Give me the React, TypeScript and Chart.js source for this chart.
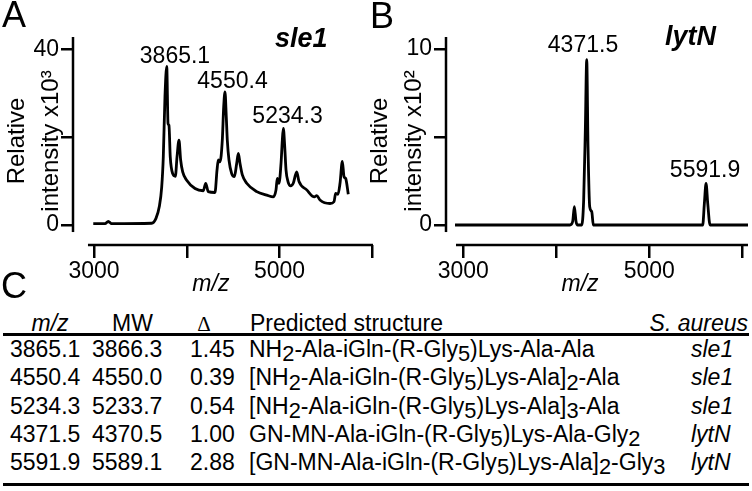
import React, { useEffect, useRef } from 'react';
import { Chart, registerables } from 'chart.js';

Chart.register(...registerables);

const FONT = '"Liberation Sans", Arial, Helvetica, sans-serif';

// ---------- Panel A : sle1 ----------
const mzA = [2992, 3119, 3154, 3190, 3622, 3668, 3704, 3730, 3747, 3765, 3784, 3798, 3808, 3822, 3848, 3877, 3895, 3916, 3934, 3956, 3999, 4089, 4178, 4204, 4232, 4304, 4326, 4340, 4358, 4383, 4398, 4412, 4426, 4437, 4455, 4484, 4513, 4538, 4556, 4574, 4599, 4646, 4754, 4862, 4933, 4962, 4976, 4994, 5016, 5030, 5041, 5056, 5070, 5091, 5120, 5148, 5185, 5210, 5293, 5375, 5401, 5436, 5544, 5587, 5605, 5630, 5652, 5677, 5695, 5713, 5741];
const intensityA = [0.3, 0.3, 0.8, 0.3, 0.4, 1.5, 4.2, 8.7, 15.5, 29.2, 36.1, 23.1, 22.7, 15.5, 11.7, 11.1, 15.5, 19.3, 14.8, 12.1, 10.2, 8.3, 7.8, 9.5, 7.6, 7.4, 12.5, 14.8, 14.4, 19.3, 26.9, 30.3, 24.6, 19.3, 14.8, 11.7, 11.0, 14.0, 16.3, 14.0, 11.4, 9.5, 7.6, 6.8, 6.4, 8.0, 10.6, 9.5, 14.0, 19.3, 22.0, 17.8, 12.5, 9.9, 8.9, 9.5, 12.1, 9.9, 8.0, 6.4, 6.7, 5.7, 4.9, 5.3, 7.2, 7.0, 9.5, 14.5, 11.0, 10.6, 7.0];
const yTicksA = [0, 20, 40];
const yTickLabelsA = ['0', '', '40'];
const peakLabelsA = ['3865.1', '4550.4', '5234.3'];
const peakLabelMzA = [3873, 4493, 5086];
const peakLabelIntA = [36.8, 31.1, 23.2];

// ---------- Panel B : lytN ----------
const mzB = [2911, 4147, 4176, 4194, 4212, 4230, 4273, 4294, 4312, 4327, 4341, 4359, 4381, 4398, 5574, 5592, 5610, 5628, 5653, 6064];
const intensityB = [0, 0, 0.2, 1.04, 0.2, 0, 0, 1.4, 5.4, 9.4, 4.45, 1.04, 0.76, 0, 0, 1.23, 2.37, 1.23, 0, 0];
const yTicksB = [0, 5, 10];
const yTickLabelsB = ['0', '', '10'];
const peakLabelsB = ['4371.5', '5591.9'];
const peakLabelMzB = [4287, 5599];
const peakLabelIntB = [9.8, 2.75];

// ---------- shared x axis ----------
const xTicks = [3000, 4000, 5000, 6000];
const xTickLabels = ['3000', '', '5000', ''];

// ---------- Table C ----------
const tableMz = ['3865.1', '4550.4', '5234.3', '4371.5', '5591.9'];
const tableMW = ['3866.3', '4550.0', '5233.7', '4370.5', '5589.1'];
const tableDelta = ['1.45', '0.39', '0.54', '1.00', '2.88'];
const tableStructure = [
  'NH_2-Ala-iGln-(R-Gly_5)Lys-Ala-Ala',
  '[NH_2-Ala-iGln-(R-Gly_5)Lys-Ala]_2-Ala',
  '[NH_2-Ala-iGln-(R-Gly_5)Lys-Ala]_3-Ala',
  'GN-MN-Ala-iGln-(R-Gly_5)Lys-Ala-Gly_2',
  '[GN-MN-Ala-iGln-(R-Gly_5)Lys-Ala]_2-Gly_3',
];
const tableStrain = ['sle1', 'sle1', 'sle1', 'lytN', 'lytN'];

type Panel = {
  left: number; width: number; height: number;
  yAxisWidth: number; padTop: number; padRight: number; xAxisHeight: number;
  xMin: number; xMax: number; yMin: number; yMax: number;
  xLineStart: number; yLineStart: number;
  mz: number[]; intensity: number[];
  yTicks: number[]; yTickLabels: string[];
  peakLabels: string[]; peakMz: number[]; peakInt: number[];
  gene: string; geneX: number; geneY: number;
  yUnit: string; xTitleAt: number;
};

const panelA: Panel = {
  left: 0, width: 376, height: 300,
  yAxisWidth: 73, padTop: 37, padRight: 3, xAxisHeight: 55,
  xMin: 2773.6, xMax: 6007.5, yMin: -4.55, yMax: 42.8,
  xLineStart: 2935, yLineStart: -1.6,
  mz: mzA, intensity: intensityA,
  yTicks: yTicksA, yTickLabels: yTickLabelsA,
  peakLabels: peakLabelsA, peakMz: peakLabelMzA, peakInt: peakLabelIntA,
  gene: 'sle1', geneX: 275, geneY: 46.5,
  yUnit: 'intensity x10\u00B3', xTitleAt: 4260,
};

const panelB: Panel = {
  left: 363, width: 389, height: 300,
  yAxisWidth: 83, padTop: 37, padRight: 4, xAxisHeight: 55,
  xMin: 2814, xMax: 6061, yMin: -1.136, yMax: 10.68,
  xLineStart: 2921.5, yLineStart: -0.4,
  mz: mzB, intensity: intensityB,
  yTicks: yTicksB, yTickLabels: yTickLabelsB,
  peakLabels: peakLabelsB, peakMz: peakLabelMzB, peakInt: peakLabelIntB,
  gene: 'lytN', geneX: 302, geneY: 45,
  yUnit: 'intensity x10\u00B2', xTitleAt: 4255,
};

const overlayPlugin = {
  id: 'overlay',
  afterDraw(chart: any, _args: any, opts: any) {
    const { ctx, chartArea } = chart;
    const x = chart.scales.x;
    const y = chart.scales.y;
    ctx.save();
    ctx.strokeStyle = '#000';
    ctx.lineWidth = 2.5;
    ctx.lineCap = 'butt';
    ctx.beginPath();
    ctx.moveTo(x.getPixelForValue(opts.xLineStart), chartArea.bottom);
    ctx.lineTo(chartArea.right, chartArea.bottom);
    ctx.stroke();
    ctx.beginPath();
    ctx.moveTo(chartArea.left, y.getPixelForValue(opts.yLineStart));
    ctx.lineTo(chartArea.left, chartArea.top);
    ctx.stroke();

    ctx.fillStyle = '#000';
    ctx.font = `23px ${FONT}`;
    ctx.textAlign = 'center';
    ctx.textBaseline = 'alphabetic';
    opts.peakLabels.forEach((t: string, i: number) => {
      ctx.fillText(t, x.getPixelForValue(opts.peakMz[i]), y.getPixelForValue(opts.peakInt[i]));
    });

    ctx.font = `italic bold 27px ${FONT}`;
    ctx.textAlign = 'left';
    ctx.fillText(opts.gene, opts.geneX, opts.geneY);

    ctx.font = `italic 23px ${FONT}`;
    ctx.textAlign = 'center';
    ctx.textBaseline = 'middle';
    ctx.fillText('m/z', x.getPixelForValue(opts.xTitleAt), chartArea.bottom + 40);
    ctx.restore();
  },
};

function SpectrumChart({ p }: { p: Panel }) {
  const ref = useRef<HTMLCanvasElement>(null);
  useEffect(() => {
    if (!ref.current) return;
    const tickFont = { family: FONT, size: 23 };
    const chart = new Chart(ref.current, {
      type: 'line',
      data: {
        datasets: [{
          data: p.mz.map((m, i) => ({ x: m, y: p.intensity[i] })),
          borderColor: '#000',
          borderWidth: 2.8,
          pointRadius: 0,
          fill: false,
          cubicInterpolationMode: 'monotone',
        }],
      },
      options: {
        responsive: false,
        animation: false,
        devicePixelRatio: 1,
        layout: { padding: { left: 0, top: p.padTop, right: p.padRight, bottom: 0 } },
        plugins: {
          legend: { display: false },
          tooltip: { enabled: false },
          overlay: {
            xLineStart: p.xLineStart, yLineStart: p.yLineStart,
            peakLabels: p.peakLabels, peakMz: p.peakMz, peakInt: p.peakInt,
            gene: p.gene, geneX: p.geneX, geneY: p.geneY, xTitleAt: p.xTitleAt,
          },
        } as any,
        scales: {
          x: {
            type: 'linear', min: p.xMin, max: p.xMax, bounds: 'data',
            afterBuildTicks: (s: any) => { s.ticks = xTicks.map((v) => ({ value: v })); },
            afterFit: (s: any) => { s.height = p.xAxisHeight; },
            ticks: {
              callback: (v: any) => xTickLabels[xTicks.indexOf(Number(v))] ?? '',
              autoSkip: false, maxRotation: 0, minRotation: 0, padding: 0,
              color: '#000', font: tickFont,
            },
            grid: {
              display: true, drawOnChartArea: false, drawTicks: true, tickLength: 13,
              tickWidth: 2.5, tickColor: '#000', color: '#000', lineWidth: 2.5,
            },
            border: { display: false },
            title: { display: false },
          },
          y: {
            type: 'linear', min: p.yMin, max: p.yMax, bounds: 'data',
            afterBuildTicks: (s: any) => { s.ticks = p.yTicks.map((v) => ({ value: v })); },
            afterFit: (s: any) => { s.width = p.yAxisWidth; },
            ticks: {
              callback: (v: any) => p.yTickLabels[p.yTicks.indexOf(Number(v))] ?? '',
              autoSkip: false, padding: 2, color: '#000', font: tickFont,
            },
            grid: {
              display: true, drawOnChartArea: false, drawTicks: true, tickLength: 12,
              tickWidth: 2.5, tickColor: '#000', color: '#000', lineWidth: 2.5,
            },
            border: { display: false },
            title: {
              display: true, text: ['Relative', p.yUnit], color: '#000', padding: 0,
              font: { family: FONT, size: 24, lineHeight: 1.42 },
            },
          },
        },
      } as any,
      plugins: [overlayPlugin],
    });
    return () => chart.destroy();
  }, [p]);
  return (
    <canvas
      ref={ref}
      width={p.width}
      height={p.height}
      style={{ position: 'absolute', left: p.left, top: 0, width: p.width, height: p.height }}
    />
  );
}

function Txt({ x, y, align = 'left', style, children }: any) {
  const s: any = { position: 'absolute', top: y, lineHeight: 0, whiteSpace: 'nowrap', ...style };
  if (align === 'left') s.left = x;
  else if (align === 'right') s.right = 752 - x;
  else { s.left = x; s.transform = 'translateX(-50%)'; }
  return <div style={s}>{children}</div>;
}

function Structure({ text }: { text: string }) {
  const parts = text.split(/_(\d)/);
  return (
    <>
      {parts.map((part, i) =>
        i % 2 === 1
          ? <span key={i} style={{ position: 'relative', top: '0.2em', fontSize: '0.95em' }}>{part}</span>
          : <span key={i}>{part}</span>
      )}
    </>
  );
}

export default function App() {
  const rowY0 = 349;
  const rowStep = 28.25;
  const tf = { fontSize: 23 };
  return (
    <div style={{ position: 'absolute', left: 0, top: 0, width: 752, height: 491, background: '#fff', fontFamily: FONT, color: '#000', overflow: 'hidden' }}>
      <SpectrumChart p={panelA} />
      <SpectrumChart p={panelB} />

      <Txt x={2} y={15} style={{ fontSize: 36 }}>A</Txt>
      <Txt x={370} y={15.5} style={{ fontSize: 36 }}>B</Txt>
      <Txt x={1} y={285.5} style={{ fontSize: 36 }}>C</Txt>

      {/* table header */}
      <Txt x={50} y={323} align="center" style={{ ...tf, fontStyle: 'italic' }}>m/z</Txt>
      <Txt x={132.5} y={323} align="center" style={tf}>MW</Txt>
      <Txt x={204} y={324} align="center" style={{ fontSize: 21, fontFamily: '"Liberation Serif", "Times New Roman", serif' }}>Δ</Txt>
      <Txt x={250} y={323} style={tf}>Predicted structure</Txt>
      <Txt x={748} y={323} align="right" style={{ ...tf, fontStyle: 'italic' }}>S. aureus</Txt>
      <div style={{ position: 'absolute', left: 3, top: 332.5, width: 746, height: 3, background: '#000' }} />

      {tableMz.map((mz, i) => {
        const y = rowY0 + i * rowStep;
        return (
          <React.Fragment key={i}>
            <Txt x={10} y={y} style={tf}>{mz}</Txt>
            <Txt x={92} y={y} style={tf}>{tableMW[i]}</Txt>
            <Txt x={190} y={y} style={tf}>{tableDelta[i]}</Txt>
            <Txt x={249} y={y} style={tf}><Structure text={tableStructure[i]} /></Txt>
            <Txt x={691} y={y} style={{ ...tf, fontStyle: 'italic' }}>{tableStrain[i]}</Txt>
          </React.Fragment>
        );
      })}
      <div style={{ position: 'absolute', left: 3, top: 482.5, width: 746, height: 3, background: '#000' }} />
    </div>
  );
}
